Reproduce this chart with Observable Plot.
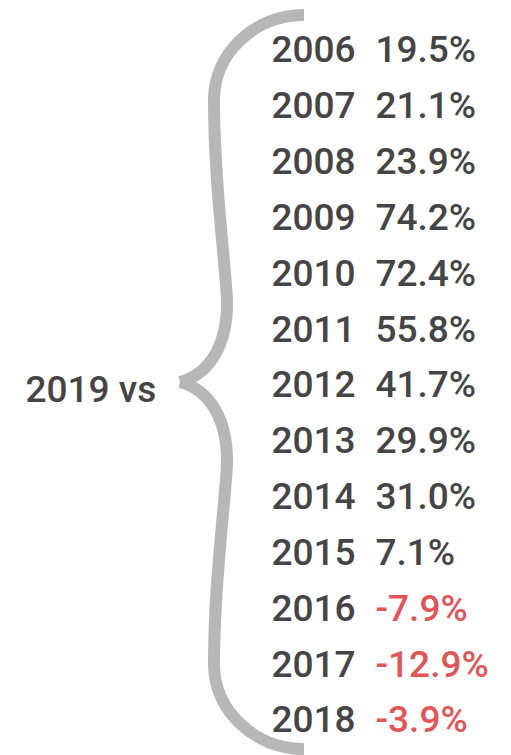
<!DOCTYPE html>
<html>
<head>
<meta charset="utf-8">
<script src="https://cdn.jsdelivr.net/npm/d3@7"></script>
<script src="https://cdn.jsdelivr.net/npm/@observablehq/plot@0.6"></script>
<style>
  html, body { margin: 0; padding: 0; background: #fff; }
  #chart svg { display: block; }
</style>
</head>
<body>
<div id="chart"></div>
<script>
// Data
const years = [2006, 2007, 2008, 2009, 2010, 2011, 2012, 2013, 2014, 2015, 2016, 2017, 2018];
const changes = [19.5, 21.1, 23.9, 74.2, 72.4, 55.8, 41.7, 29.9, 31.0, 7.1, -7.9, -12.9, -3.9];
const baseLabel = ["2019 vs"];

const rows = years.map((year, i) => ({year, change: changes[i]}));

const dark = "#454545";
const red = "#e05656";
const braceColor = "#b7b7b7";

// Curly brace drawn from the y scale (spans first to last row)
function brace(index, scales, values, dimensions) {
  const y0 = scales.y(years[0]);
  const y1 = scales.y(years[years.length - 1]);
  const top = y0 - 35, bot = y1 + 29;
  const mid = (top + bot) / 2;
  const H = (bot - top) / 2;
  const k = H / 368;
  const xs = x => scales.x(x);
  const half = s => {
    const Y = d => mid + s * d * k;
    return `M${xs(304)},${Y(368)} C${xs(255)},${Y(368)} ${xs(214)},${Y(330)} ${xs(214)},${Y(283)} ` +
      `C${xs(214)},${Y(203)} ${xs(224)},${Y(133)} ${xs(227)},${Y(83)} ` +
      `C${xs(228)},${Y(38)} ${xs(210)},${Y(8)} ${xs(180)},${Y(0)}`;
  };
  const svg = d3.create("svg:path")
    .attr("d", half(-1) + " " + half(1))
    .attr("fill", "none")
    .attr("stroke", braceColor)
    .attr("stroke-width", 12)
    .attr("stroke-linejoin", "miter")
    .attr("stroke-linecap", "butt");
  return svg.node();
}

const chart = Plot.plot({
  width: 511,
  height: 755,
  marginLeft: 0,
  marginRight: 0,
  marginTop: 50,
  marginBottom: 35,
  style: {fontFamily: "Roboto, sans-serif", background: "#fff"},
  x: {domain: [0, 511], axis: null},
  y: {type: "point", domain: years, padding: 0, round: false, axis: null},
  marks: [
    brace,
    Plot.text(rows, {
      x: () => 271, y: "year", text: d => String(d.year),
      textAnchor: "start", fontSize: 37, fontWeight: 500, fill: dark
    }),
    Plot.text(rows, {
      x: () => 375, y: "year", text: d => d.change.toFixed(1) + "%",
      textAnchor: "start", fontSize: 37, fontWeight: 500,
      fill: d => d.change < 0 ? red : dark
    }),
    Plot.text(baseLabel, {
      frameAnchor: "left", dx: 25, dy: 5, text: d => d,
      textAnchor: "start", fontSize: 37, fontWeight: 500, fill: dark
    })
  ]
});

document.getElementById("chart").appendChild(chart);
</script>
</body>
</html>
